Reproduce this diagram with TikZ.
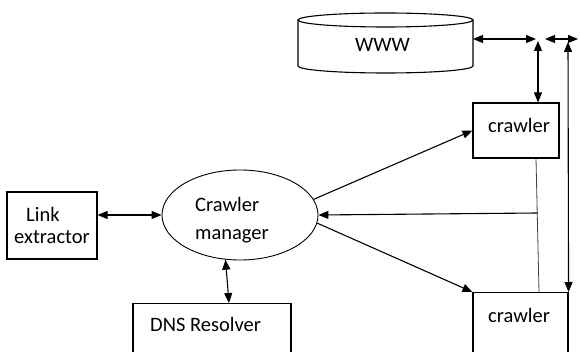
\documentclass[tikz,border=0pt]{standalone}
\usepackage{fontspec}
\setmainfont{Carlito}
\usetikzlibrary{arrows.meta,shapes.geometric,positioning}

\tikzset{
  box/.style={draw, line width=1.1pt, inner sep=0pt},
  lbl/.style={font=\fontsize{20.5pt}{28pt}\selectfont, inner sep=0pt},
  both/.style={line width=1.1pt, {Triangle[length=10pt,width=8pt]}-{Triangle[length=10pt,width=8pt]}},
  into/.style={line width=1.1pt, -{Triangle[length=10pt,width=8pt]}},
}

\begin{document}
\begin{tikzpicture}[x=1pt,y=-1pt]
\useasboundingbox (0,0) rectangle (580,352);

% web store
\draw[line width=1.1pt] (298,20) -- (298,66) arc[start angle=180,end angle=0,x radius=87.5,y radius=7] -- (473,20);
\draw[line width=1.1pt] (385.5,20) ellipse[x radius=87.5,y radius=7];
\node (www) [lbl, anchor=base west] at (355,52) {WWW};

% boxes
\node (c1) [box, minimum width=86pt, minimum height=55pt] at (516,130.5) {};
\node (c1lbl) [lbl, anchor=base west] at (488,133) {crawler};
\node (c2) [box, minimum width=95pt, minimum height=80pt, anchor=north] at (520.5,292) {};
\node (c2lbl) [lbl, anchor=base west] at (488,322) {crawler};
\node (mgr) [box, ellipse, line width=0.9pt, minimum width=156pt, minimum height=90pt] at (240,215) {};
\node (mgrlbl) [lbl, align=left] at (232,220) {Crawler\\manager};
\node (lx) [box, minimum width=90pt, minimum height=67pt, align=left, lbl, font=\fontsize{20.5pt}{22pt}\selectfont] at (52,225.5) {\hspace*{12pt}Link\\extractor};
\node (dns) [box, minimum width=158pt, minimum height=70pt, anchor=north] at (212,303) {};
\node (dnslbl) [lbl, anchor=base west] at (150,331.7) {DNS Resolver};

% junction points
\coordinate (wwwR) at (473,39);
\coordinate (hubL) at (536,39);
\coordinate (hubD) at (538,41);
\coordinate (hubR) at (545,39);
\coordinate (rim) at (578,39);
\coordinate (railT) at (568,42);
\coordinate (tap) at (537.5,213);

\draw[both] (wwwR) -- (hubL);
\draw[both] (hubR) -- (rim);
\draw[both] (hubD) -- ([xshift=22pt]c1.north);
\draw[both] (railT) -- (c2.north east);

\draw[both] (lx.east |- mgr.west) -- (mgr.west);
\draw[both] (mgr.252) -- ([xshift=17pt]dns.north);
\draw[into] (mgr.12) -- (c1.west);
\draw[into] (mgr.354) -- (c2.north west);

\draw[line width=0.8pt, black!75] ([xshift=20pt]c1.south) -- ([xshift=18.5pt]c2.north);
\draw[into] (tap) -- (mgr.east);

\end{tikzpicture}
\end{document}
